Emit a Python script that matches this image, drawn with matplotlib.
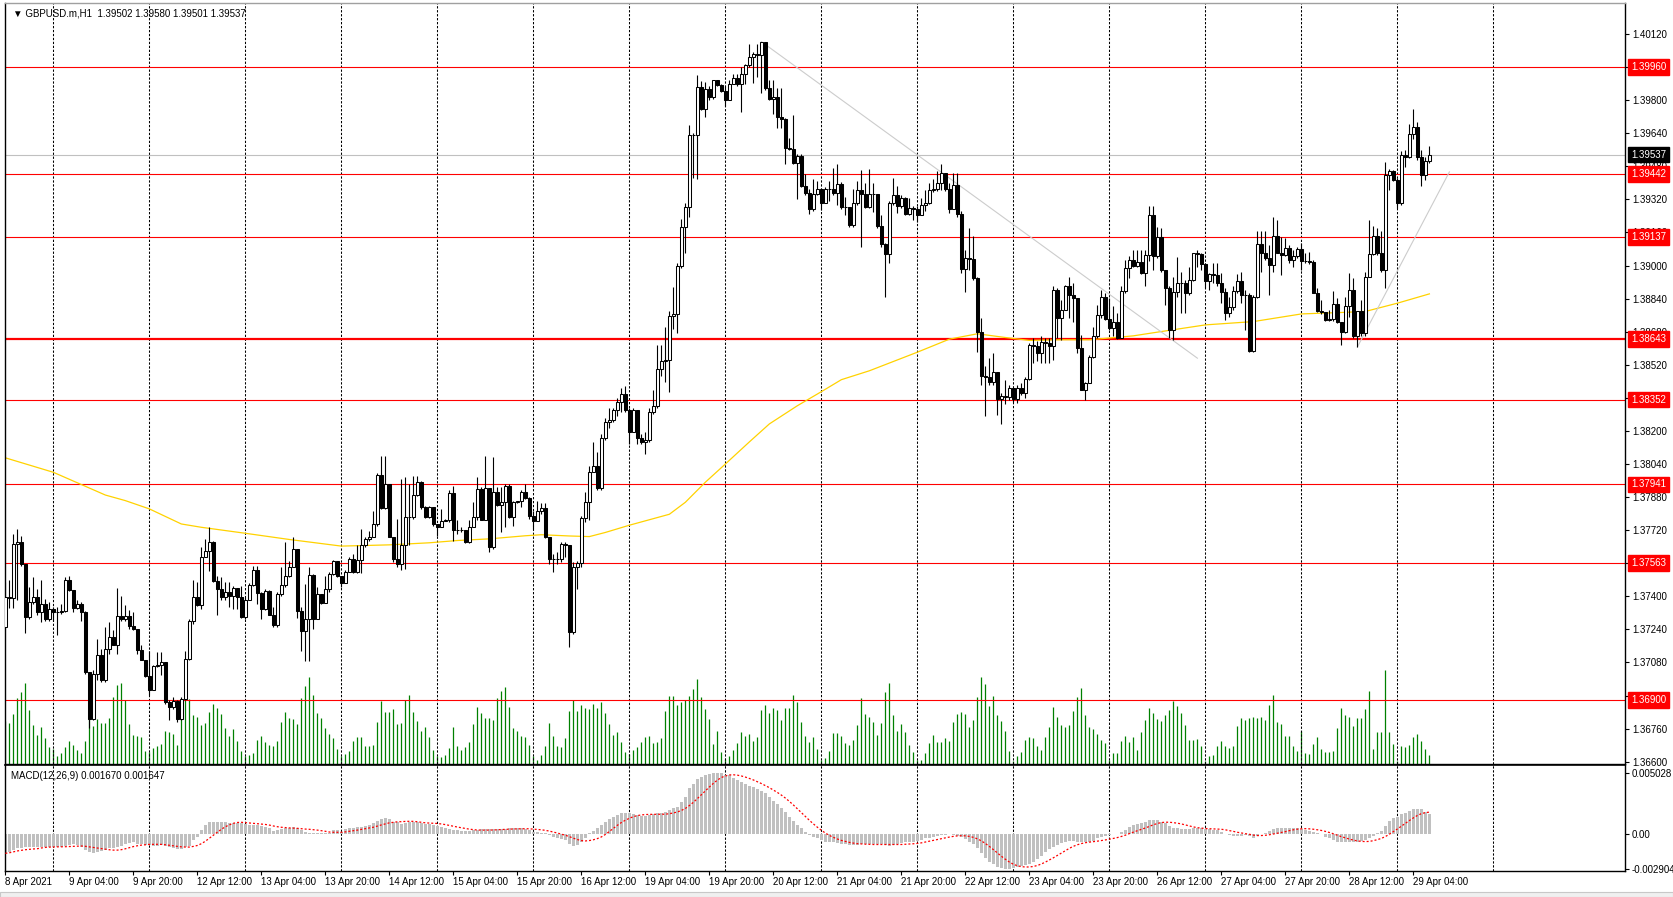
import numpy as np
import pandas as pd
import matplotlib as mpl
import matplotlib.pyplot as plt
import matplotlib.transforms as mtransforms

mpl.rcParams.update({
    "font.family": ["Liberation Sans", "DejaVu Sans"],
    "font.size": 7,
})

# ---- data (GBPUSD.m, H1, 8 Apr 12:00 .. 29 Apr 08:00) ----
first_open = 1.37254
closes = [
    1.37396, 1.37392, 1.37654, 1.37662, 1.37557, 1.37299, 1.37372, 1.37396, 1.37324, 1.37364,
    1.37288, 1.37340, 1.37324, 1.37324, 1.37327, 1.37477, 1.37432, 1.37345, 1.37364, 1.37324,
    1.37034, 1.36808, 1.37026, 1.37118, 1.36994, 1.37147, 1.37203, 1.37167, 1.37306, 1.37288,
    1.37306, 1.37258, 1.37240, 1.37140, 1.37092, 1.37015, 1.36949, 1.37061, 1.37069, 1.37084,
    1.36887, 1.36865, 1.36894, 1.36808, 1.36903, 1.37098, 1.37279, 1.37396, 1.37356, 1.37589,
    1.37621, 1.37662, 1.37472, 1.37436, 1.37396, 1.37423, 1.37404, 1.37441, 1.37396, 1.37299,
    1.37380, 1.37456, 1.37528, 1.37415, 1.37340, 1.37428, 1.37312, 1.37259, 1.37412, 1.37456,
    1.37496, 1.37544, 1.37630, 1.37328, 1.37234, 1.37291, 1.37505, 1.37291, 1.37409, 1.37367,
    1.37436, 1.37509, 1.37570, 1.37497, 1.37465, 1.37517, 1.37581, 1.37517, 1.37576, 1.37646,
    1.37675, 1.37689, 1.37750, 1.37988, 1.37828, 1.37944, 1.37689, 1.37581, 1.37557, 1.37649,
    1.37786, 1.37786, 1.37888, 1.37952, 1.37831, 1.37786, 1.37831, 1.37750, 1.37734, 1.37763,
    1.37770, 1.37899, 1.37721, 1.37721, 1.37721, 1.37662, 1.37734, 1.37786, 1.37920, 1.37770,
    1.37925, 1.37638, 1.37904, 1.37844, 1.37855, 1.37936, 1.37786, 1.37855, 1.37860, 1.37904,
    1.37875, 1.37791, 1.37763, 1.37815, 1.37828, 1.37686, 1.37581, 1.37581, 1.37581, 1.37654,
    1.37650, 1.37226, 1.37541, 1.37563, 1.37777, 1.37855, 1.38001, 1.38030, 1.37923, 1.38166,
    1.38244, 1.38254, 1.38302, 1.38341, 1.38380, 1.38302, 1.38195, 1.38302, 1.38166, 1.38147,
    1.38156, 1.38293, 1.38322, 1.38501, 1.38536, 1.38542, 1.38756, 1.38764, 1.38997, 1.39188,
    1.39285, 1.39631, 1.39631, 1.39865, 1.39758, 1.39853, 1.39814, 1.39898, 1.39874, 1.39845,
    1.39801, 1.39878, 1.39908, 1.39878, 1.39927, 1.39970, 1.40009, 1.40024, 1.40020, 1.40079,
    1.39859, 1.39806, 1.39814, 1.39717, 1.39709, 1.39567, 1.39563, 1.39495, 1.39528, 1.39386,
    1.39353, 1.39275, 1.39347, 1.39372, 1.39304, 1.39372, 1.39372, 1.39353, 1.39396, 1.39285,
    1.39281, 1.39197, 1.39304, 1.39366, 1.39347, 1.39283, 1.39346, 1.39347, 1.39192, 1.39105,
    1.39057, 1.39302, 1.39342, 1.39289, 1.39326, 1.39250, 1.39278, 1.39275, 1.39246, 1.39294,
    1.39305, 1.39366, 1.39370, 1.39399, 1.39447, 1.39370, 1.39273, 1.39391, 1.39250, 1.38983,
    1.39036, 1.39031, 1.38939, 1.38681, 1.38467, 1.38463, 1.38439, 1.38483, 1.38354, 1.38370,
    1.38363, 1.38407, 1.38354, 1.38410, 1.38383, 1.38450, 1.38617, 1.38609, 1.38576, 1.38628,
    1.38625, 1.38609, 1.38883, 1.38746, 1.38786, 1.38899, 1.38858, 1.38842, 1.38600, 1.38399,
    1.38431, 1.38557, 1.38657, 1.38762, 1.38847, 1.38741, 1.38697, 1.38725, 1.38649, 1.38875,
    1.38987, 1.39028, 1.38999, 1.39015, 1.38963, 1.39052, 1.39246, 1.39044, 1.39140, 1.38979,
    1.38890, 1.38689, 1.38874, 1.38915, 1.38918, 1.38866, 1.38928, 1.39060, 1.39057, 1.39008,
    1.38923, 1.38960, 1.38955, 1.38915, 1.38874, 1.38769, 1.38799, 1.38879, 1.38923, 1.38858,
    1.38858, 1.38589, 1.38847, 1.39105, 1.39060, 1.39036, 1.39003, 1.39145, 1.39063, 1.39052,
    1.39084, 1.39028, 1.39044, 1.39079, 1.39024, 1.39024, 1.39019, 1.38869, 1.38778, 1.38773,
    1.38737, 1.38740, 1.38813, 1.38726, 1.38681, 1.38802, 1.38882, 1.38657, 1.38778, 1.38673,
    1.38947, 1.39057, 1.39145, 1.39060, 1.38979, 1.39436, 1.39456, 1.39415, 1.39302, 1.39536,
    1.39527, 1.39637, 1.39669, 1.39523, 1.39439, 1.39506, 1.39537,
]
highs = [
    1.37469, 1.37477, 1.37702, 1.37726, 1.37694, 1.37557, 1.37444, 1.37493, 1.37436, 1.37477,
    1.37388, 1.37372, 1.37348, 1.37348, 1.37364, 1.37493, 1.37496, 1.37432, 1.37380, 1.37372,
    1.37327, 1.37034, 1.37042, 1.37195, 1.37147, 1.37251, 1.37275, 1.37235, 1.37441, 1.37404,
    1.37356, 1.37335, 1.37324, 1.37240, 1.37163, 1.37093, 1.37138, 1.37066, 1.37130, 1.37130,
    1.37084, 1.36900, 1.36913, 1.36900, 1.36913, 1.37138, 1.37291, 1.37477, 1.37469, 1.37638,
    1.37678, 1.37734, 1.37670, 1.37496, 1.37493, 1.37469, 1.37469, 1.37452, 1.37441, 1.37452,
    1.37396, 1.37464, 1.37549, 1.37549, 1.37420, 1.37436, 1.37432, 1.37348, 1.37420, 1.37544,
    1.37662, 1.37573, 1.37686, 1.37630, 1.37347, 1.37460, 1.37541, 1.37509, 1.37444, 1.37412,
    1.37500, 1.37517, 1.37576, 1.37565, 1.37468, 1.37525, 1.37589, 1.37605, 1.37646, 1.37726,
    1.37686, 1.37718, 1.37815, 1.37996, 1.38081, 1.38081, 1.37944, 1.37689, 1.37775, 1.37968,
    1.37976, 1.37944, 1.37984, 1.37984, 1.37960, 1.37839, 1.37839, 1.37834, 1.37742, 1.37823,
    1.37775, 1.37912, 1.37936, 1.37767, 1.37734, 1.37718, 1.37770, 1.37855, 1.37976, 1.37928,
    1.38081, 1.37912, 1.38073, 1.37928, 1.37928, 1.37944, 1.37944, 1.37863, 1.37863, 1.37912,
    1.37944, 1.37879, 1.37815, 1.37863, 1.37850, 1.37850, 1.37686, 1.37605, 1.37613, 1.37662,
    1.37662, 1.37641, 1.37565, 1.37573, 1.37787, 1.37904, 1.38030, 1.38147, 1.38098, 1.38186,
    1.38264, 1.38312, 1.38312, 1.38361, 1.38409, 1.38419, 1.38312, 1.38312, 1.38302, 1.38186,
    1.38195, 1.38312, 1.38400, 1.38614, 1.38614, 1.38701, 1.38779, 1.38896, 1.39013, 1.39227,
    1.39304, 1.39680, 1.39639, 1.39921, 1.39892, 1.39888, 1.39869, 1.39898, 1.39898, 1.39878,
    1.39869, 1.39898, 1.39927, 1.39927, 1.39962, 1.39976, 1.40073, 1.40034, 1.40073, 1.40083,
    1.40073, 1.39898, 1.39898, 1.39859, 1.39859, 1.39713, 1.39616, 1.39729, 1.39538, 1.39538,
    1.39441, 1.39372, 1.39421, 1.39411, 1.39372, 1.39382, 1.39411, 1.39470, 1.39489, 1.39406,
    1.39334, 1.39285, 1.39372, 1.39407, 1.39463, 1.39399, 1.39466, 1.39399, 1.39342, 1.39246,
    1.39108, 1.39310, 1.39423, 1.39383, 1.39342, 1.39334, 1.39326, 1.39286, 1.39286, 1.39326,
    1.39366, 1.39399, 1.39418, 1.39455, 1.39492, 1.39450, 1.39399, 1.39450, 1.39450, 1.39262,
    1.39076, 1.39181, 1.39141, 1.38947, 1.38746, 1.38512, 1.38552, 1.38576, 1.38447, 1.38383,
    1.38447, 1.38423, 1.38399, 1.38423, 1.38431, 1.38463, 1.38625, 1.38649, 1.38633, 1.38657,
    1.38649, 1.38649, 1.38902, 1.38891, 1.38834, 1.38907, 1.38947, 1.38915, 1.38842, 1.38665,
    1.38439, 1.38568, 1.38705, 1.38810, 1.38883, 1.38867, 1.38842, 1.38802, 1.38770, 1.38899,
    1.39028, 1.39044, 1.39076, 1.39076, 1.39076, 1.39076, 1.39286, 1.39289, 1.39186, 1.39181,
    1.38979, 1.38899, 1.38947, 1.39040, 1.38971, 1.38931, 1.38995, 1.39063, 1.39076, 1.39060,
    1.39011, 1.38966, 1.39011, 1.39011, 1.38963, 1.38890, 1.38850, 1.38899, 1.38960, 1.38971,
    1.38882, 1.38866, 1.38858, 1.39165, 1.39165, 1.39165, 1.39100, 1.39237, 1.39221, 1.39140,
    1.39132, 1.39100, 1.39076, 1.39092, 1.39111, 1.39060, 1.39065, 1.39028, 1.38890, 1.38834,
    1.38773, 1.38786, 1.38879, 1.38842, 1.38729, 1.38850, 1.38963, 1.38939, 1.38782, 1.38831,
    1.38971, 1.39221, 1.39189, 1.39181, 1.39165, 1.39503, 1.39466, 1.39460, 1.39423, 1.39552,
    1.39560, 1.39686, 1.39758, 1.39692, 1.39560, 1.39527, 1.39579,
]
lows = [
    1.37251, 1.37345, 1.37345, 1.37380, 1.37549, 1.37222, 1.37291, 1.37364, 1.37308, 1.37275,
    1.37283, 1.37283, 1.37283, 1.37211, 1.37316, 1.37324, 1.37428, 1.37324, 1.37340, 1.37283,
    1.37026, 1.36762, 1.36800, 1.36994, 1.36986, 1.36986, 1.37122, 1.37163, 1.37122, 1.37283,
    1.37283, 1.37243, 1.37235, 1.37122, 1.37090, 1.37010, 1.36921, 1.36945, 1.37058, 1.37018,
    1.36881, 1.36800, 1.36857, 1.36792, 1.36800, 1.36897, 1.37090, 1.37267, 1.37351, 1.37340,
    1.37589, 1.37522, 1.37469, 1.37308, 1.37380, 1.37380, 1.37348, 1.37340, 1.37340, 1.37296,
    1.37291, 1.37380, 1.37452, 1.37364, 1.37291, 1.37332, 1.37308, 1.37251, 1.37251, 1.37404,
    1.37444, 1.37493, 1.37541, 1.37296, 1.37138, 1.37089, 1.37089, 1.37242, 1.37291, 1.37363,
    1.37367, 1.37420, 1.37505, 1.37492, 1.37444, 1.37465, 1.37517, 1.37512, 1.37512, 1.37512,
    1.37638, 1.37670, 1.37686, 1.37742, 1.37823, 1.37823, 1.37686, 1.37565, 1.37541, 1.37525,
    1.37533, 1.37646, 1.37775, 1.37883, 1.37823, 1.37779, 1.37779, 1.37742, 1.37694, 1.37742,
    1.37763, 1.37759, 1.37670, 1.37702, 1.37710, 1.37657, 1.37659, 1.37759, 1.37767, 1.37767,
    1.37767, 1.37613, 1.37629, 1.37839, 1.37710, 1.37734, 1.37779, 1.37738, 1.37850, 1.37834,
    1.37871, 1.37775, 1.37726, 1.37802, 1.37799, 1.37683, 1.37557, 1.37517, 1.37557, 1.37565,
    1.37589, 1.37154, 1.37218, 1.37437, 1.37544, 1.37758, 1.37767, 1.38001, 1.37913, 1.37913,
    1.38156, 1.38215, 1.38244, 1.38273, 1.38293, 1.38293, 1.38137, 1.38195, 1.38137, 1.38137,
    1.38088, 1.38147, 1.38283, 1.38312, 1.38468, 1.38439, 1.38390, 1.38692, 1.38672, 1.38989,
    1.39061, 1.39236, 1.39425, 1.39421, 1.39752, 1.39717, 1.39801, 1.39806, 1.39869, 1.39839,
    1.39771, 1.39810, 1.39888, 1.39869, 1.39742, 1.39878, 1.39962, 1.39884, 1.39911, 1.39834,
    1.39849, 1.39801, 1.39732, 1.39664, 1.39664, 1.39489, 1.39557, 1.39489, 1.39324, 1.39378,
    1.39343, 1.39250, 1.39262, 1.39343, 1.39269, 1.39334, 1.39314, 1.39343, 1.39295, 1.39275,
    1.39246, 1.39188, 1.39188, 1.39294, 1.39092, 1.39278, 1.39278, 1.39257, 1.39181, 1.39092,
    1.38847, 1.39012, 1.39294, 1.39254, 1.39278, 1.39246, 1.39246, 1.39221, 1.39213, 1.39254,
    1.39266, 1.39299, 1.39358, 1.39363, 1.39366, 1.39363, 1.39254, 1.39331, 1.39237, 1.38963,
    1.38870, 1.38979, 1.38931, 1.38584, 1.38423, 1.38270, 1.38423, 1.38423, 1.38278, 1.38234,
    1.38331, 1.38350, 1.38342, 1.38334, 1.38375, 1.38359, 1.38447, 1.38528, 1.38536, 1.38528,
    1.38528, 1.38528, 1.38544, 1.38649, 1.38641, 1.38786, 1.38746, 1.38725, 1.38576, 1.38396,
    1.38350, 1.38431, 1.38552, 1.38649, 1.38746, 1.38738, 1.38689, 1.38657, 1.38644, 1.38649,
    1.38867, 1.38939, 1.38992, 1.38992, 1.38960, 1.38902, 1.39020, 1.38979, 1.39036, 1.38971,
    1.38810, 1.38649, 1.38640, 1.38850, 1.38769, 1.38769, 1.38858, 1.38923, 1.38995, 1.38979,
    1.38890, 1.38882, 1.38915, 1.38899, 1.38818, 1.38737, 1.38753, 1.38786, 1.38866, 1.38818,
    1.38689, 1.38584, 1.38584, 1.38842, 1.38971, 1.39028, 1.38858, 1.38971, 1.39060, 1.38955,
    1.39044, 1.39011, 1.38995, 1.39036, 1.38979, 1.39011, 1.39008, 1.38866, 1.38773, 1.38766,
    1.38734, 1.38734, 1.38734, 1.38721, 1.38616, 1.38676, 1.38753, 1.38649, 1.38608, 1.38657,
    1.38657, 1.38944, 1.39052, 1.39052, 1.38971, 1.38890, 1.39366, 1.39411, 1.39277, 1.39294,
    1.39479, 1.39519, 1.39611, 1.39511, 1.39387, 1.39415, 1.39495,
]
tick_volume = [
    130, 123, 150, 198, 215, 244, 163, 118, 88, 110, 78, 52, 45, 25, 33, 52, 70, 57, 43, 33,
    70, 145, 115, 135, 122, 122, 138, 200, 237, 244, 193, 120, 87, 85, 80, 40, 35, 47, 55, 60,
    100, 97, 90, 57, 135, 195, 195, 147, 140, 117, 123, 155, 180, 168, 150, 108, 83, 105, 70, 40,
    25, 28, 32, 73, 85, 67, 58, 55, 70, 127, 157, 137, 135, 120, 198, 235, 260, 207, 152, 138,
    108, 90, 77, 45, 25, 30, 40, 70, 80, 82, 53, 53, 57, 127, 188, 155, 155, 165, 120, 123,
    192, 208, 157, 128, 98, 110, 80, 43, 25, 20, 28, 47, 112, 55, 42, 50, 65, 120, 170, 152,
    138, 137, 133, 198, 218, 232, 170, 107, 100, 85, 82, 58, 25, 13, 28, 55, 123, 83, 55, 52,
    77, 160, 192, 160, 177, 168, 165, 180, 167, 187, 153, 120, 88, 97, 67, 37, 30, 43, 52, 67,
    80, 83, 63, 65, 77, 160, 205, 205, 178, 187, 193, 205, 225, 255, 200, 165, 135, 60, 100, 35,
    15, 23, 43, 62, 97, 83, 90, 70, 80, 163, 178, 152, 167, 163, 133, 169, 167, 208, 187, 127,
    85, 67, 80, 45, 13, 17, 40, 93, 93, 85, 63, 57, 73, 117, 197, 150, 140, 125, 88, 122,
    215, 242, 148, 100, 120, 97, 58, 37, 12, 13, 32, 62, 88, 67, 67, 77, 70, 125, 150, 157,
    150, 110, 132, 200, 260, 240, 175, 205, 147, 130, 98, 38, 10, 23, 35, 72, 82, 77, 53, 43,
    80, 110, 172, 142, 117, 110, 118, 160, 200, 227, 147, 112, 105, 90, 73, 63, 12, 32, 32, 70,
    83, 65, 80, 43, 95, 133, 167, 152, 135, 128, 148, 162, 188, 175, 152, 118, 73, 73, 75, 55,
    10, 25, 27, 55, 70, 55, 47, 55, 115, 138, 132, 138, 140, 138, 140, 132, 178, 208, 125, 120,
    85, 85, 55, 40, 100, 33, 30, 60, 80, 45, 35, 37, 40, 108, 168, 147, 140, 115, 138, 138,
    165, 220, 45, 97, 95, 283, 95, 60, 10, 55, 52, 58, 82, 90, 70, 45, 28,
]
# MACD(12,26,9) main line, in units of 1e-4
macd_main_e4 = [
    -16.0, -15.1, -13.2, -11.8, -11.3, -10.7, -10.5, -10.5, -10.5, -10.5,
    -11.0, -11.0, -10.7, -10.5, -10.5, -9.6, -9.1, -8.5, -9.1, -10.5,
    -13.2, -15.1, -15.4, -15.1, -14.0, -13.2, -11.8, -11.8, -10.5, -9.9,
    -8.5, -7.2, -6.9, -8.0, -8.3, -9.1, -9.1, -9.9, -9.9, -9.1,
    -9.9, -11.0, -11.8, -12.4, -12.4, -11.0, -9.9, -5.0, -2.2, 3.3,
    7.4, 10.2, 10.2, 10.2, 10.2, 9.6, 8.8, 9.4, 9.4, 8.8,
    8.0, 7.4, 7.4, 7.4, 6.9, 6.1, 4.7, 2.8, 3.3, 3.9,
    4.7, 5.2, 6.1, 5.2, 3.3, 1.9, 1.1, 0.6, 0.6, 0.6,
    0.6, 0.6, 3.3, 3.3, 1.9, 4.1, 4.7, 4.7, 5.5, 6.1,
    6.9, 7.4, 8.8, 10.7, 12.4, 12.9, 12.1, 9.6, 9.6, 8.0,
    9.4, 9.6, 10.2, 9.6, 8.8, 8.0, 8.0, 7.4, 6.9, 6.1,
    4.7, 3.9, 3.3, 3.3, 2.5, 2.5, 2.5, 3.3, 3.3, 3.9,
    3.9, 3.9, 3.9, 4.1, 4.1, 4.1, 4.7, 4.7, 4.7, 4.7,
    4.1, 3.3, 1.9, 1.9, 1.1, 0.6, -0.8, -2.2, -3.0, -4.1,
    -5.0, -8.3, -9.6, -9.1, -6.9, -3.6, 0.6, 2.8, 4.7, 7.4,
    10.2, 12.4, 14.3, 15.7, 17.1, 17.6, 17.6, 16.2, 15.7, 15.1,
    15.1, 15.7, 16.2, 17.1, 17.6, 18.4, 19.8, 21.2, 22.6, 26.2,
    30.8, 37.7, 41.0, 45.4, 47.4, 48.7, 49.3, 50.0, 50.3, 50.3,
    49.0, 48.7, 46.5, 44.6, 42.7, 41.0, 39.9, 39.1, 37.2, 35.5,
    33.6, 30.8, 27.3, 24.5, 21.2, 17.9, 14.3, 10.7, 7.4, 4.7,
    1.9, -0.8, -2.2, -3.6, -5.0, -6.3, -6.9, -6.9, -7.7, -8.5,
    -8.5, -9.1, -9.1, -9.1, -8.5, -8.5, -8.5, -8.5, -8.5, -8.5,
    -9.1, -9.9, -9.1, -8.5, -7.7, -6.9, -6.9, -6.3, -5.8, -5.0,
    -3.6, -3.0, -2.2, -1.4, -0.8, -0.8, -0.3, -0.8, -1.4, -2.2,
    -4.1, -6.3, -8.5, -11.8, -16.0, -19.5, -22.9, -25.1, -27.0, -28.4,
    -29.0, -29.0, -28.4, -27.0, -26.2, -25.6, -24.8, -23.4, -20.9, -17.9,
    -15.1, -12.7, -10.5, -9.1, -7.7, -6.6, -6.1, -6.1, -6.3, -6.3,
    -6.3, -6.3, -5.8, -3.6, -2.2, -1.4, -0.8, -0.3, 0.0, 1.9,
    3.3, 6.1, 7.4, 8.0, 8.8, 9.6, 11.6, 11.6, 11.6, 10.2,
    8.8, 6.9, 5.2, 4.7, 4.1, 3.9, 3.9, 4.7, 4.7, 5.2,
    4.1, 3.9, 3.3, 3.3, 1.9, -0.3, -0.8, -1.4, -1.4, -1.4,
    -0.8, -1.4, -3.0, -1.4, 0.0, 1.1, 2.5, 3.9, 4.7, 4.7,
    4.7, 4.7, 4.7, 4.7, 4.1, 3.3, 2.5, 1.9, 0.6, -0.3,
    -2.2, -3.6, -5.0, -6.9, -6.9, -6.9, -6.9, -6.9, -6.3, -5.8,
    -5.0, -3.6, -1.4, 0.6, 2.5, 6.6, 10.7, 12.9, 13.8, 16.2,
    17.6, 19.0, 20.4, 20.4, 20.4, 18.0, 16.7,
]
# moving average (yellow) sampled along the curve: bar index -> price
ma_bars = [0, 12, 25, 30, 36, 44, 49, 60, 71, 84, 96, 106, 113, 121, 130, 134, 141, 146,
           150, 156, 166, 170, 175, 180, 186, 191, 198, 204, 209, 216, 228, 236, 243, 250,
           256, 264, 271, 282, 286, 300, 312, 324, 334, 340, 348, 356]
ma_values = [1.3807, 1.3800, 1.3789, 1.37863, 1.37823, 1.3775, 1.37734, 1.37705, 1.37675,
             1.37643, 1.37649, 1.37659, 1.3767, 1.37678, 1.37693, 1.37698, 1.37692, 1.37689,
             1.37709, 1.37744, 1.37797, 1.37855, 1.37952, 1.3804, 1.38147, 1.38234, 1.38322,
             1.3839, 1.38448, 1.38491, 1.38581, 1.38644, 1.3867, 1.38652, 1.38638, 1.38641,
             1.38641, 1.3866, 1.38672, 1.38713, 1.38729, 1.38766, 1.38773, 1.38778, 1.38818,
             1.38863]
# grey trend lines (bar, price) end points
trend_lines = [((189, 1.40083), (298, 1.38552)), ((338, 1.38606), (361, 1.39453))]
levels = [1.39960, 1.39442, 1.39137, 1.38643, 1.38352, 1.37941, 1.37563, 1.36900]
bid_price = 1.39537
time_labels = ["8 Apr 2021", "9 Apr 04:00", "9 Apr 20:00", "12 Apr 12:00", "13 Apr 04:00",
               "13 Apr 20:00", "14 Apr 12:00", "15 Apr 04:00", "15 Apr 20:00", "16 Apr 12:00",
               "19 Apr 04:00", "19 Apr 20:00", "20 Apr 12:00", "21 Apr 04:00", "21 Apr 20:00",
               "22 Apr 12:00", "23 Apr 04:00", "23 Apr 20:00", "26 Apr 12:00", "27 Apr 04:00",
               "27 Apr 20:00", "28 Apr 12:00", "29 Apr 04:00"]

W, H = 1673, 897
fig = plt.figure(figsize=(W / 100, H / 100), dpi=100)
fig.patch.set_facecolor("white")


def fig_rect(x0, y0, x1, y1):
    return [x0 / W, 1 - y1 / H, (x1 - x0) / W, (y1 - y0) / H]


ax = fig.add_axes(fig_rect(4.5, 3, 1625, 764))
axm = fig.add_axes(fig_rect(4.5, 765, 1625, 871), sharex=ax)
x_lo, x_hi = -0.21, 404.9
ax.set_xlim(x_lo, x_hi)
ax.set_ylim(1.36589, 1.40270)

n = len(closes)
x = np.arange(n)
c = np.array(closes)
o = np.r_[first_open, c[:-1]]
hi = np.maximum(np.array(highs), np.maximum(o, c))
lo = np.minimum(np.array(lows), np.minimum(o, c))

# volumes on a twin axis behind the candles
axv = ax.twinx()
axv.set_zorder(ax.get_zorder() - 1)
ax.patch.set_visible(False)
axv.set_ylim(0, 2283)
axv.vlines(x, 0, tick_volume, color="#008000", lw=0.9)
axv.set_yticks([])
for s in axv.spines.values():
    s.set_visible(False)

# vertical day grid
grid_bars = np.arange(12, 380, 24)
for a in (ax, axm):
    for g in grid_bars:
        a.axvline(g, color="black", lw=0.75, ls=(0, (2.2, 1.6)), zorder=1)

# horizontal levels
ax.axhline(bid_price, color="#c0c0c0", lw=0.8, zorder=2)
for lv in levels:
    ax.axhline(lv, color="#ff0000", lw=1.6 if lv == 1.38643 else 0.8, zorder=2)

ax.plot(ma_bars, ma_values, color="#ffd200", lw=0.9, zorder=2)
for (b0, p0), (b1, p1) in trend_lines:
    ax.plot([b0, b1], [p0, p1], color="#cccccc", lw=0.8, zorder=2)

# candles
up = c >= o
ax.vlines(x, lo, hi, color="black", lw=0.8, zorder=3)
body_h = np.where(np.abs(c - o) < 1e-6, 1e-6, np.abs(c - o))
ax.bar(x[up], body_h[up], bottom=np.minimum(o, c)[up], width=0.6,
       facecolor="white", edgecolor="black", lw=0.75, zorder=4)
ax.bar(x[~up], body_h[~up], bottom=np.minimum(o, c)[~up], width=0.6,
       facecolor="black", edgecolor="black", lw=0.75, zorder=4)

# price axis
price_ticks = np.round(np.arange(1.3660, 1.4013, 0.0016), 5)
ax.yaxis.tick_right()
ax.set_yticks(price_ticks)
ax.set_yticklabels([f"{p:.5f}" for p in price_ticks])
ax.tick_params(axis="y", length=3, width=0.8, pad=2, labelsize=7)
ax.tick_params(axis="x", length=0, labelbottom=False)

lab_tr = mtransforms.blended_transform_factory(ax.transAxes, ax.transData)
for lv in levels:
    ax.text(1.0038, lv, f"{lv:.5f}", transform=lab_tr, color="white", fontsize=7,
            va="center", ha="left", zorder=10, clip_on=False,
            bbox=dict(boxstyle="square,pad=0.3", fc="#ff0000", ec="#ff0000"))
ax.text(1.0038, bid_price, f"{bid_price:.5f}", transform=lab_tr, color="white",
        fontsize=7, va="center", ha="left", zorder=10, clip_on=False,
        bbox=dict(boxstyle="square,pad=0.3", fc="black", ec="black"))

ax.text(8 / 1620, 1 - 10 / 761, "\u25bc GBPUSD.m,H1  1.39502 1.39580 1.39501 1.39537",
        transform=ax.transAxes, fontsize=7, va="center", ha="left", zorder=10)

for s in ax.spines.values():
    s.set_linewidth(1.0)
ax.spines["top"].set_color("#a0a0a0")

# MACD pane
macd = np.array(macd_main_e4) * 1e-4
signal = pd.Series(macd).rolling(9, min_periods=1).mean().values
axm.set_ylim(-0.00306, 0.0057)
axm.bar(x, macd, width=0.65, color="#c0c0c0", lw=0, zorder=2)
axm.plot(x, signal, color="#ff0000", lw=0.9, ls=(0, (1.6, 1.6)), zorder=3)
axm.yaxis.tick_right()
axm.set_yticks([0.005028, 0.0, -0.002904])
axm.set_yticklabels(["0.005028", "0.00", "-0.002904"])
axm.tick_params(axis="y", length=3, width=0.8, pad=2, labelsize=7)
axm.text(6 / 1620, 0.9, "MACD(12,26,9) 0.001670 0.001647", transform=axm.transAxes,
         fontsize=7, va="center", ha="left", zorder=10)
axm.set_xticks(np.arange(len(time_labels)) * 16)
axm.set_xticklabels(time_labels, ha="left")
axm.tick_params(axis="x", length=3, width=0.8, pad=1.5, labelsize=7)
for s in axm.spines.values():
    s.set_linewidth(1.0)
axm.spines["top"].set_linewidth(1.2)

# window bottom strip
fig.patches.append(plt.Rectangle((0, 0), 1, 5 / H, transform=fig.transFigure,
                                 fc="#f0f0f0", ec="#c8c8c8", lw=0.8))

fig.savefig("out.png", dpi=100)
